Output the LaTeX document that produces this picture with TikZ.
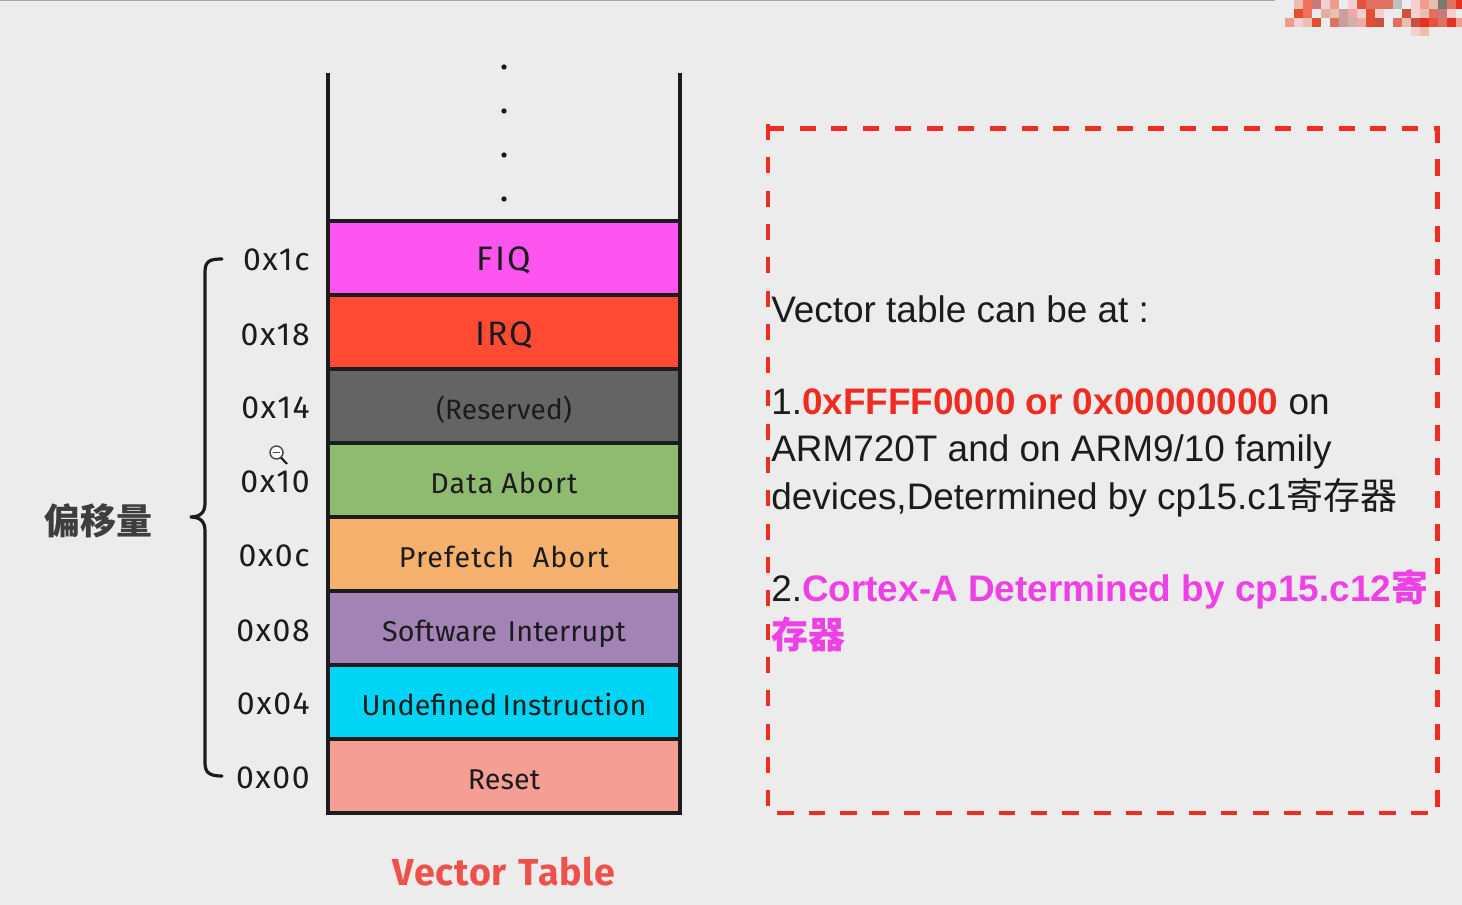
\documentclass[tikz,border=0pt]{standalone}
\usepackage{fontspec}
\setmainfont{Liberation Sans}
\newfontfamily\cjk{Noto Sans CJK SC}
\newfontfamily\hand[LetterSpace=4]{Fira Sans}
\newfontfamily\handwide[LetterSpace=5]{Fira Sans}
\newfontfamily\handcap[LetterSpace=6]{Fira Sans}
\newfontfamily\handtight[LetterSpace=0.5]{Fira Sans}
\newfontfamily\handcaption[LetterSpace=2]{Fira Sans}
\definecolor{paper}{HTML}{ECECEC}
\definecolor{ink}{HTML}{1C1C1C}
\definecolor{alarm}{HTML}{EE2C22}
\definecolor{violetpink}{HTML}{EE40E6}
\definecolor{headred}{HTML}{F0504A}
\definecolor{fiqc}{HTML}{FF55F0}
\definecolor{irqc}{HTML}{FF4B33}
\definecolor{resc}{HTML}{646464}
\definecolor{datac}{HTML}{8FBB70}
\definecolor{prefc}{HTML}{F4B06C}
\definecolor{softc}{HTML}{A382B5}
\definecolor{undc}{HTML}{00D5F5}
\definecolor{resetc}{HTML}{F59E96}
\definecolor{c0}{HTML}{ECECEE}\definecolor{c1}{HTML}{EBBFB0}\definecolor{c2}{HTML}{F0705A}
\definecolor{c3}{HTML}{C87A7A}\definecolor{c4}{HTML}{F2D0D0}\definecolor{c5}{HTML}{F09A90}
\definecolor{c6}{HTML}{E85040}\definecolor{c7}{HTML}{E07060}\definecolor{c8}{HTML}{C0C0C0}
\definecolor{c9}{HTML}{7A7A70}\definecolor{d0}{HTML}{E83020}\definecolor{d1}{HTML}{E0B0A0}
\definecolor{d2}{HTML}{C8A0A0}\definecolor{d3}{HTML}{F0A8A8}\definecolor{d4}{HTML}{D05040}
\definecolor{d5}{HTML}{E05030}\definecolor{d6}{HTML}{D0B0A8}\definecolor{d7}{HTML}{C85040}
\tikzset{
  x=0.75pt,y=-0.75pt,
  slot/.style={draw=ink,line width=2.7pt,fill=#1,minimum width=264pt,minimum height=55.5pt,
    inner sep=0pt,outer sep=0pt,text height=19.5pt,text depth=0pt,
    font=\hand\fontsize{21.5}{22}\selectfont,text=ink,anchor=north west},
  offset/.style={anchor=base east,inner sep=0pt,font=\handwide\fontsize{24}{24}\selectfont,text=ink},
  para/.style={anchor=base west,inner sep=0pt,font=\fontsize{27.7}{30}\selectfont,text=ink},
  rail/.style={draw=ink,line width=2.5pt},
  spot/.style={circle,fill=ink,inner sep=0pt,minimum size=4pt},
  bracepath/.style={draw=ink,line width=2.4pt,line cap=round},
  frameside/.style={draw=alarm,line width=3.6pt},
}
\newcommand{\cellrow}[2]{%
  \foreach \c [count=\i from 0] in {#2} {
    \fill[fill=\c] ({1285+9*\i},#1) rectangle ++(9,9);
  }}
\begin{document}
\begin{tikzpicture}
\useasboundingbox (0,0) rectangle (1462,905);
\fill[paper] (0,0) rectangle (1462,905);
\fill[black!35] (0,0) rectangle (1275,1.5);

% pixelated patch in the upper right corner
\cellrow{0}{c0,c1,c2,c3,c4,c5,c0,c4,c6,c7,c7,c7,c8,c0,c4,c5,c1,c9,c7,d0}
\cellrow{9}{c0,d5,c2,c0,d1,c1,d2,d3,c4,d5,c4,c0,c0,d4,c4,c1,c7,c3,c4,c0}
\cellrow{18}{c5,c4,c1,d5,c0,c7,d2,d6,d3,d5,d7,c0,c7,c1,d7,d0,c6,c7,d0,c5}
\fill[c4] (1411,27) rectangle ++(9,9);
\fill[c1] (1420,27) rectangle ++(9,9);

% the table: eight coloured slots, open at the top
\node[slot=fiqc]   (fiq)   at (328,221) {\handcap\fontsize{25.5}{25}\selectfont FIQ};
\node[slot=irqc]   (irq)   at (328,295) {\handcap\fontsize{25.5}{25}\selectfont IRQ};
\node[slot=resc]   (rsv)   at (328,369) {\handtight\fontsize{21}{21}\selectfont (Reserved)};
\node[slot=datac]  (data)  at (328,443) {Data\hspace{6pt}Abort};
\node[slot=prefc]  (pref)  at (328,517) {Prefetch\hspace{14pt}Abort};
\node[slot=softc]  (soft)  at (328,591) {\handtight Software\hspace{8pt}Interrupt};
\node[slot=undc]   (und)   at (328,665) {\handtight Undefined\hspace{4pt}Instruction};
\node[slot=resetc] (reset) at (328,739) {\handtight Reset};

\coordinate (wallL) at (328,73);
\coordinate (wallR) at (680,73);
\draw[rail] (wallL) -- (fiq.north west);
\draw[rail] (wallR) -- (fiq.north east);

\node[spot] (d1) at (504,67) {};
\node[spot] (d2) at (504,111) {};
\node[spot] (d3) at (504,155) {};
\node[spot] (d4) at (504,199) {};

% offsets beside each slot
\node[offset] (o1c) at (310,271) {0x1c};
\node[offset] (o18) at (310,345) {0x18};
\node[offset] (o14) at (310,418) {0x14};
\node[offset] (o10) at (310,492) {0x10};
\node[offset] (o0c) at (310,566) {0x0c};
\node[offset] (o08) at (310,641) {0x08};
\node[offset] (o04) at (310,714) {0x04};
\node[offset] (o00) at (310,788) {0x00};

% curly brace gathering the offsets
\coordinate (braceTop) at (222,259);
\coordinate (braceTip) at (190,517);
\coordinate (braceEnd) at (222,776);
\draw[bracepath] (braceTop) .. controls (210,259) and (205,261) .. (205,272)
  -- (205,503) .. controls (205,512) and (201,517) .. (braceTip)
  .. controls (201,517) and (205,522) .. (205,531)
  -- (205,763) .. controls (205,773) and (210,776) .. (braceEnd);
\node[anchor=base,inner sep=0pt,font=\cjk\bfseries\fontsize{27}{27}\selectfont,text=ink!85] (lbl) at (98,534) {偏移量};

% magnifier pointer
\coordinate (lensC) at (276.5,452.5);
\coordinate (lensH) at (287,464);
\draw[ink!80,line width=1.1pt,fill=white] (lensC) circle[radius=6.5];
\draw[ink!80,line width=1.1pt] (273,452.5) -- (280,452.5);
\draw[ink,line width=1.6pt] (281,457.5) -- (lensH);

\node[anchor=base,inner sep=0pt,font=\handcaption\bfseries\fontsize{28.2}{28}\selectfont,text=headred] (cap) at (504,885) {Vector\hspace{9pt}Table};

% dashed frame, each side with its own dash rhythm
\coordinate (frameTL) at (768,128.5);
\coordinate (frameTR) at (1437.5,128.5);
\coordinate (frameBL) at (777,813);
\coordinate (frameBR) at (1437.5,813);
\coordinate (leftTop) at (768,124);
\coordinate (leftEnd) at (768,810);
\coordinate (rightTop) at (1437.5,126);
\coordinate (rightEnd) at (1437.5,810);
\draw[frameside,dash pattern=on 12pt off 11.78pt] (frameTL) -- (frameTR);
\draw[frameside,dash pattern=on 12.4pt off 12.5pt] (rightTop) -- (rightEnd);
\draw[frameside,dash pattern=on 12.4pt off 11.38pt] (frameBL) -- (frameBR);
\draw[frameside,dash pattern=on 12pt off 12.98pt] (leftTop) -- (leftEnd);

\node[para] (l1) at (771,322) {Vector table can be at :};
\node[para] (l2) at (771,414) {1.{\bfseries\color{alarm}0xFFFF0000 or 0x00000000} on};
\node[para] (l3) at (771,461) {ARM720T and on ARM9/10 family};
\node[para] (l4) at (771,509) {devices,Determined by cp15.c1{\cjk 寄存器}};
\node[para] (l5) at (771,601) {2.{\bfseries\color{violetpink}Cortex-A Determined by cp15.c12{\cjk 寄}}};
\node[para] (l6) at (771,648) {{\bfseries\color{violetpink}\cjk 存器}};
\end{tikzpicture}
\end{document}
